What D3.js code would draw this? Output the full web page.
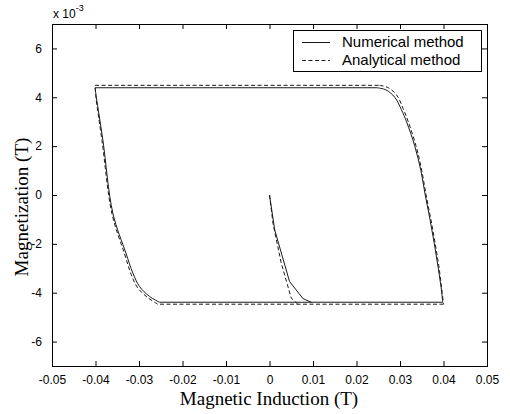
<!DOCTYPE html>
<html><head><meta charset="utf-8">
<script src="https://cdn.jsdelivr.net/npm/d3@7"></script>
<style>body{margin:0;background:#fff}svg{display:block}</style>
</head><body>
<svg id="c" width="510" height="414"></svg>
<script>
// Data (B in T, M in units of 1e-3 T)
const xTicks = [-0.05,-0.04,-0.03,-0.02,-0.01,0,0.01,0.02,0.03,0.04,0.05];
const xTickLabels = ["-0.05","-0.04","-0.03","-0.02","-0.01","0","0.01","0.02","0.03","0.04","0.05"];
const yTicks = [-6,-4,-2,0,2,4,6];
const yTickLabels = ["-6","-4","-2","0","2","4","6"];

// Numerical method
const numInitB  = [0, 0.0012, 0.0046, 0.0077, 0.0096];
const numInitM  = [0, -1.43, -3.54, -4.24, -4.39];
const numTopB   = [-0.0401, 0.0248];
const numTopM   = [4.39, 4.39];
const numRightB = [0.0248, 0.0268, 0.0288, 0.0303, 0.0315, 0.0334, 0.0348, 0.0358, 0.0369, 0.0379, 0.0388, 0.0396, 0.0398];
const numRightM = [4.39, 4.30, 4.00, 3.50, 3.00, 2.00, 1.00, 0.00, -1.00, -2.00, -3.00, -4.00, -4.39];
const numBotB   = [0.0398, -0.0253];
const numBotM   = [-4.39, -4.39];
const numLeftB  = [-0.0253, -0.0276, -0.0299, -0.0314, -0.0330, -0.0360, -0.0383, -0.0398, -0.0401];
const numLeftM  = [-4.39, -4.15, -3.74, -3.20, -2.38, -0.75, 2.24, 4.00, 4.39];

// Analytical method
const anaInitB  = [0, 0.0008, 0.0027, 0.0050, 0.0065];
const anaInitM  = [0, -1.16, -2.79, -4.22, -4.47];
const anaTopB   = [-0.0401, 0.0253];
const anaTopM   = [4.49, 4.49];
const anaRightB = [0.0253, 0.0272, 0.0292, 0.0308, 0.0319, 0.0337, 0.0350, 0.0360, 0.0371, 0.0381, 0.0390, 0.0397, 0.0400];
const anaRightM = [4.49, 4.40, 4.10, 3.50, 3.00, 2.00, 1.00, 0.00, -1.00, -2.00, -3.00, -4.00, -4.47];
const anaBotB   = [0.0400, -0.0257];
const anaBotM   = [-4.47, -4.47];
const anaLeftB  = [-0.0257, -0.0280, -0.0303, -0.0318, -0.0333, -0.0362, -0.0385, -0.0399, -0.0401];
const anaLeftM  = [-4.47, -4.20, -3.80, -3.25, -2.42, -0.78, 2.22, 4.00, 4.49];

const legendLabels = ["Numerical method", "Analytical method"];

const svg = d3.select("#c");
const L = 52, R = 487, T = 24, Bt = 366;
const x = d3.scaleLinear().domain([-0.05, 0.05]).range([L, R]);
const y = d3.scaleLinear().domain([-7, 7]).range([Bt, T]);

const g = svg.append("g");
const axFont = "Arial, 'Liberation Sans', sans-serif";

const xAxis = d3.axisBottom(x).tickValues(xTicks).tickFormat((d,i)=>xTickLabels[i]).tickSizeInner(-5).tickSizeOuter(0).tickPadding(9);
const gx = g.append("g").attr("transform", `translate(0,${Bt})`).call(xAxis);
const gxt = g.append("g").attr("transform", `translate(0,${T})`).call(d3.axisTop(x).tickValues(xTicks).tickFormat("").tickSizeInner(-5).tickSizeOuter(0));
const yAxis = d3.axisLeft(y).tickValues(yTicks).tickFormat((d,i)=>yTickLabels[i]).tickSizeInner(-5).tickSizeOuter(0).tickPadding(10);
const gy = g.append("g").attr("transform", `translate(${L},0)`).call(yAxis);
const gyr = g.append("g").attr("transform", `translate(${R},0)`).call(d3.axisRight(y).tickValues(yTicks).tickFormat("").tickSizeInner(-5).tickSizeOuter(0));
[gx,gxt,gy,gyr].forEach(a=>{
  a.selectAll(".domain").remove();
  a.selectAll("line").attr("stroke","#000");
  a.selectAll("text").attr("font-family",axFont).attr("font-size",12).attr("fill","#000");
});

g.append("rect").attr("x",L+0.5).attr("y",T+0.5).attr("width",R-L).attr("height",Bt-T)
  .attr("fill","none").attr("stroke","#000").attr("stroke-width",1);

const straight = d3.line().x(d=>x(d[0])).y(d=>y(d[1]));
const smooth = d3.line().x(d=>x(d[0])).y(d=>y(d[1])).curve(d3.curveCatmullRom.alpha(0.5));
function pts(bs, ms){ return bs.map((b,i)=>[b, ms[i]]); }
const DASH = "4,2.5";
const segs = [
  [numInitB, numInitM, straight, null],
  [numTopB, numTopM, straight, null],
  [numRightB, numRightM, smooth, null],
  [numBotB, numBotM, straight, null],
  [numLeftB, numLeftM, smooth, null],
  [anaInitB, anaInitM, straight, DASH],
  [anaTopB, anaTopM, straight, DASH],
  [anaRightB, anaRightM, smooth, DASH],
  [anaBotB, anaBotM, straight, DASH],
  [anaLeftB, anaLeftM, smooth, DASH]
];
segs.forEach(([bs, ms, gen, dash])=>{
  g.append("path").attr("d", gen(pts(bs, ms))).attr("fill","none").attr("stroke","#1a1a1a")
   .attr("stroke-width",1).attr("stroke-dasharray", dash);
});

const ex = g.append("text").attr("x",53).attr("y",18).attr("font-family",axFont).attr("font-size",12).attr("fill","#000");
ex.append("tspan").text("x 10");
ex.append("tspan").attr("dy",-7).attr("font-size",9).text("-3");

g.append("rect").attr("x",293.5).attr("y",30.5).attr("width",188).attr("height",41).attr("fill","#fff").attr("stroke","#000");
const dashes = [null, DASH];
legendLabels.forEach((t,i)=>{
  const yy = 42 + i*18;
  g.append("line").attr("x1",302).attr("x2",330).attr("y1",yy+0.5).attr("y2",yy+0.5).attr("stroke","#1a1a1a").attr("stroke-dasharray",dashes[i]);
  g.append("text").attr("x",342).attr("y",yy+5).attr("font-family",axFont).attr("font-size",15).attr("fill","#000").text(t);
});

const serif = "'Times New Roman', 'Liberation Serif', serif";
g.append("text").attr("x",269).attr("y",405).attr("text-anchor","middle").attr("font-family",serif).attr("font-size",19).attr("fill","#000").text("Magnetic Induction (T)");
g.append("text").attr("transform","translate(28,207) rotate(-90)").attr("text-anchor","middle").attr("font-family",serif).attr("font-size",19).attr("fill","#000").text("Magnetization (T)");
</script>
</body></html>
